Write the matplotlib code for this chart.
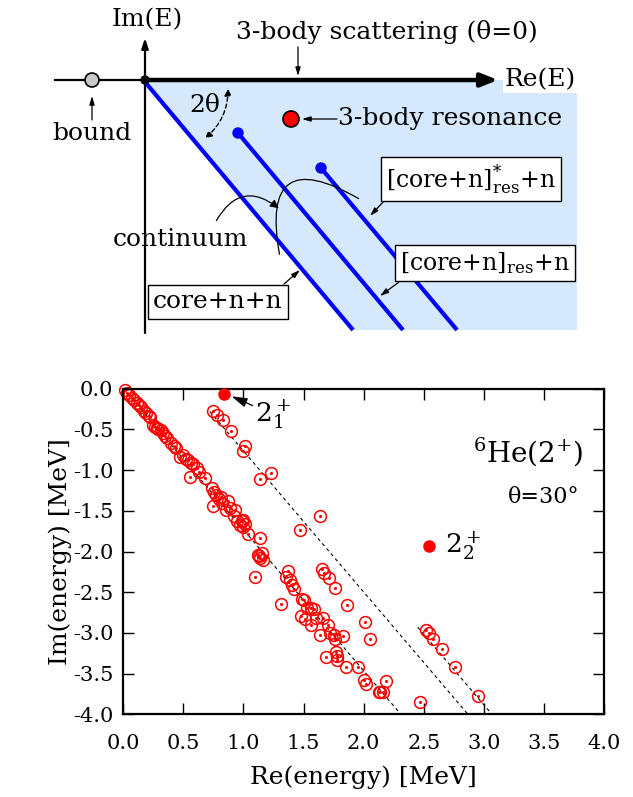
import numpy as np
import matplotlib
matplotlib.use("Agg")
import matplotlib.pyplot as plt
from matplotlib.patches import Polygon, Circle, FancyArrowPatch

plt.rcParams["font.family"] = ["DejaVu Serif"]
plt.rcParams["mathtext.fontset"] = "dejavuserif"

# ---- data: complex-scaled eigenvalues of 6He(2+), theta = 30 deg ----
# continuum / resonance points (Re, Im) in MeV
cont_re = [0.01, 0.03, 0.05, 0.07, 0.09, 0.11, 0.13, 0.15, 0.17, 0.19, 0.21, 0.22,
           0.25, 0.26, 0.28, 0.29, 0.31, 0.33, 0.35, 0.36, 0.40, 0.42, 0.44, 0.47,
           0.50, 0.52, 0.54, 0.56, 0.58, 0.61, 0.63, 0.555, 0.68, 0.74, 0.755, 0.745,
           0.77, 0.80, 0.81, 0.82, 0.875, 0.856, 0.89, 0.93, 0.92, 0.95, 0.97, 0.99,
           1.00, 1.01, 1.00, 1.04, 1.14, 1.125, 1.15, 1.14, 1.16, 1.13, 1.10, 1.37,
           1.355, 1.39, 1.40, 1.42, 1.31, 1.49, 1.50, 1.53, 1.56, 1.59, 1.48, 1.51,
           1.56, 1.60, 1.66, 1.70, 1.64, 1.72, 1.76, 1.75, 1.83, 1.69, 1.77, 1.78,
           1.78, 1.85, 1.95, 2.00, 2.02, 2.125, 2.14, 2.16, 2.19,
           1.65, 1.67, 1.71, 1.76, 1.86, 2.01, 2.05, 2.47, 1.64, 1.47, 1.14, 1.23,
           0.75, 0.78, 0.83, 0.90, 1.01, 1.00,
           2.52, 2.54, 2.58, 2.65, 2.76, 2.95]
cont_im = [-0.02, -0.05, -0.08, -0.11, -0.14, -0.17, -0.20, -0.23, -0.27, -0.30, -0.33, -0.35,
           -0.44, -0.47, -0.48, -0.50, -0.51, -0.55, -0.58, -0.60, -0.67, -0.70, -0.73, -0.84,
           -0.81, -0.86, -0.88, -0.91, -0.93, -0.98, -1.02, -1.08, -1.10, -1.22, -1.27, -1.44,
           -1.30, -1.36, -1.33, -1.40, -1.38, -1.49, -1.47, -1.49, -1.56, -1.62, -1.67, -1.62,
           -1.61, -1.66, -1.70, -1.78, -1.84, -2.04, -2.02, -2.08, -2.10, -2.06, -2.31, -2.24,
           -2.31, -2.35, -2.41, -2.46, -2.65, -2.58, -2.59, -2.69, -2.70, -2.71, -2.79, -2.83,
           -2.90, -2.82, -2.82, -2.90, -3.03, -3.00, -3.07, -3.03, -3.04, -3.30, -3.23, -3.28,
           -3.33, -3.42, -3.42, -3.58, -3.63, -3.72, -3.72, -3.72, -3.59,
           -2.22, -2.26, -2.33, -2.45, -2.66, -2.86, -3.07, -3.85, -1.56, -1.73, -1.11, -1.03,
           -0.28, -0.32, -0.38, -0.52, -0.70, -0.76,
           -2.97, -3.00, -3.08, -3.20, -3.42, -3.78]

# resonances
res_re = [0.84, 2.54]
res_im = [-0.06, -1.93]
res_lab = [r"$2^+_1$", r"$2^+_2$"]

# starting points of the rotated branch cuts (dashed lines)
cut_re = [0.0, 0.72, 2.45]
cut_im = [0.0, -0.28, -2.93]
theta = 30.0

# ---- schematic (pixel-like coordinates) ----
origin = (145, 80)
bound_pt = (92, 80)
res3_pt = (291, 119)
line_starts = [(145, 82), (238, 133), (321, 168)]
line_ends = [(353, 330), (403, 330), (457, 330)]
shade = [(145, 80), (577, 80), (577, 330), (353, 330)]

FS = 18
small_arrow = dict(arrowstyle="-|>,head_length=0.5,head_width=0.15",
                   color="k", lw=0.9, shrinkA=0, shrinkB=0)

fig = plt.figure(figsize=(6.33, 7.97), dpi=100)

# top panel: schematic
ax0 = fig.add_axes([0, 1 - 340 / 797, 1, 340 / 797])
ax0.set_xlim(0, 633)
ax0.set_ylim(340, 0)
ax0.axis("off")

ax0.add_patch(Polygon(shade, closed=True, facecolor="#d6e8fb", edgecolor="none", zorder=0))
# axes of the complex plane
ax0.plot([55, origin[0]], [80, 80], color="k", lw=1.6, zorder=2)
ax0.annotate("", xy=(498, 80), xytext=origin,
             arrowprops=dict(arrowstyle="-|>,head_length=1.0,head_width=0.4",
                             color="k", lw=3.2, shrinkA=0, shrinkB=0), zorder=3)
ax0.annotate("", xy=(145, 38), xytext=(145, 333),
             arrowprops=dict(arrowstyle="-|>,head_length=0.6,head_width=0.2",
                             color="k", lw=1.6, shrinkA=0, shrinkB=0), zorder=2)
ax0.text(147, 20, "Im(E)", ha="center", va="center", fontsize=FS)
ax0.text(540, 80, "Re(E)", ha="center", va="center", fontsize=FS,
         bbox=dict(facecolor="white", edgecolor="none", pad=1.0))
ax0.add_patch(Circle(origin, 4, color="k", zorder=5))

# bound state
ax0.add_patch(Circle(bound_pt, 7, facecolor="#c8c8c8", edgecolor="k", lw=1.2, zorder=5))
ax0.annotate("", xy=(92, 96), xytext=(92, 120), arrowprops=small_arrow)
ax0.text(92, 133, "bound", ha="center", va="center", fontsize=FS)

# 3-body scattering
ax0.text(387, 32, "3-body scattering (θ=0)", ha="center", va="center", fontsize=FS)
ax0.annotate("", xy=(298, 76), xytext=(298, 47), arrowprops=small_arrow)

# 3-body resonance
ax0.add_patch(Circle(res3_pt, 8, facecolor="red", edgecolor="k", lw=1.2, zorder=5))
ax0.annotate("", xy=(302, 119), xytext=(337, 119), arrowprops=small_arrow)
ax0.text(338, 119, "3-body resonance", ha="left", va="center", fontsize=FS)

# rotated continua
for (x0, y0), (x1, y1) in zip(line_starts, line_ends):
    ax0.plot([x0, x1], [y0, y1], color="#0000ff", lw=3.0, solid_capstyle="butt", zorder=3)
for x0, y0 in line_starts[1:]:
    ax0.add_patch(Circle((x0, y0), 5, color="#0000ff", zorder=4))

# 2 theta
ax0.text(205, 106, "2θ", ha="center", va="center", fontsize=FS)
ax0.add_patch(FancyArrowPatch((228, 86), (203, 140), connectionstyle="arc3,rad=-0.25",
                              arrowstyle="<|-|>,head_length=4,head_width=2",
                              linestyle=(0, (3, 2)), color="k", lw=1.0, zorder=4))

# continuum label with curved pointers
ax0.text(180, 239, "continuum", ha="center", va="center", fontsize=FS)
ax0.add_patch(FancyArrowPatch((215, 223), (281, 210), connectionstyle="arc3,rad=-0.6",
                              arrowstyle="-|>,head_length=5,head_width=2.5",
                              color="k", lw=0.9, zorder=4))
ax0.add_patch(FancyArrowPatch((280, 257), (361, 200), connectionstyle="arc3,rad=-1.1",
                              arrowstyle="-", color="k", lw=0.9, zorder=4))

# boxed labels
box = dict(facecolor="white", edgecolor="k", lw=1.0, boxstyle="square,pad=0.22")
ax0.text(218, 302, "core+n+n", ha="center", va="center", fontsize=FS, bbox=box, zorder=6)
ax0.annotate("", xy=(300, 270), xytext=(284, 284), arrowprops=small_arrow)
ax0.text(471, 179, r"[core+n]$^{*}_{\rm res}$+n", ha="center", va="center",
         fontsize=17, bbox=box, zorder=6)
ax0.annotate("", xy=(370, 216), xytext=(385, 200), arrowprops=small_arrow)
ax0.text(485, 263, r"[core+n]$_{\rm res}$+n", ha="center", va="center",
         fontsize=17, bbox=box, zorder=6)
ax0.annotate("", xy=(380, 296), xytext=(399, 282), arrowprops=small_arrow)

# bottom panel: eigenvalue distribution
ax = fig.add_axes([123.3 / 633, 1 - 714.3 / 797, (604 - 123.3) / 633, (714.3 - 388.7) / 797])
ax.set_xlim(0, 4)
ax.set_ylim(-4, 0)
slope = np.tan(np.radians(2 * theta))
for x0, y0 in zip(cut_re, cut_im):
    yy = np.array([y0, -4.0])
    xx = x0 + (y0 - yy) / slope
    ax.plot(xx, yy, color="k", lw=0.8, linestyle=(0, (3, 3)), zorder=1)

ax.plot(cont_re, cont_im, linestyle="none", marker="o", markersize=8.5,
        markerfacecolor="none", markeredgecolor="red", markeredgewidth=1.1, zorder=2,
        clip_on=False)
ax.plot(cont_re, cont_im, linestyle="none", marker="o", markersize=1.2,
        color="red", zorder=2, clip_on=False)
ax.plot(res_re, res_im, linestyle="none", marker="o", markersize=8,
        color="red", zorder=3, clip_on=False)

ax.annotate(res_lab[0], xy=(0.88, -0.08), xytext=(1.1, -0.32), fontsize=19,
            ha="left", va="center", arrowprops=dict(small_arrow, shrinkB=2))
ax.text(2.68, -1.93, res_lab[1], fontsize=19, ha="left", va="center")
ax.text(3.83, -0.77, r"$^{6}$He(2$^{+}$)", fontsize=20, ha="right", va="center")
ax.text(3.80, -1.33, "θ=30°", fontsize=16, ha="right", va="center")

ax.set_xticks(np.arange(0, 4.01, 0.5))
ax.set_yticks(np.arange(-4, 0.01, 0.5))
ax.xaxis.set_major_formatter(matplotlib.ticker.FormatStrFormatter("%.1f"))
ax.yaxis.set_major_formatter(matplotlib.ticker.FormatStrFormatter("%.1f"))
ax.tick_params(direction="in", length=8, width=1.0, top=True, right=True,
               labelsize=15, pad=7)
ax.tick_params(axis="x", pad=14)
for s in ax.spines.values():
    s.set_linewidth(1.6)
ax.set_xlabel("Re(energy) [MeV]", fontsize=18, labelpad=9)
ax.set_ylabel("Im(energy) [MeV]", fontsize=18, labelpad=1)

fig.savefig("out.png", dpi=100)
